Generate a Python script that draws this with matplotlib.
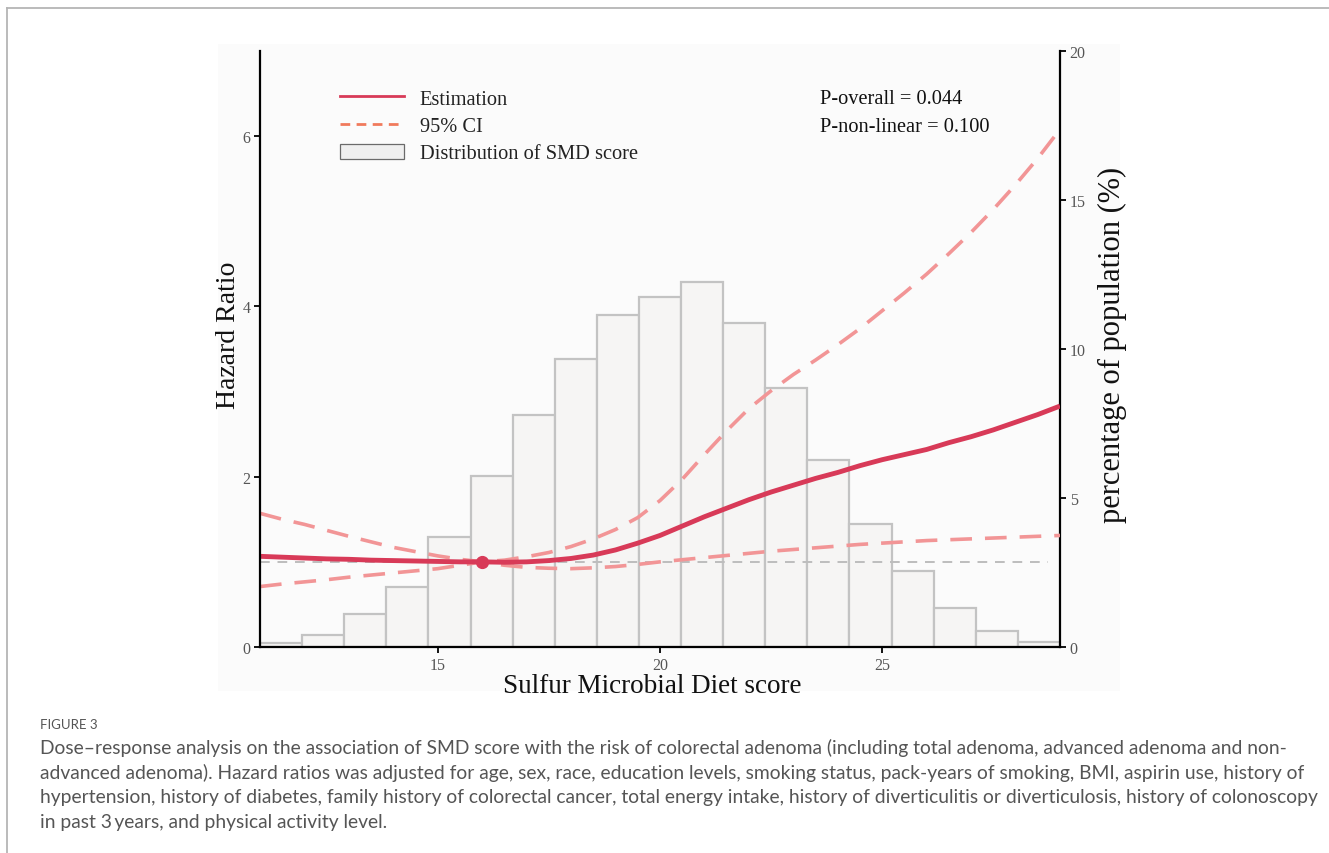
import numpy as np
import matplotlib
matplotlib.use("Agg")
import matplotlib.pyplot as plt
from matplotlib.lines import Line2D
from matplotlib.patches import Patch, Rectangle

# ---------------- data ----------------
score = [11, 11.5, 12, 12.5, 13, 13.5, 14, 14.5, 15, 15.5, 16, 16.5, 17, 17.5, 18, 18.5,
         19, 19.5, 20, 20.5, 21, 21.5, 22, 22.5, 23, 23.5, 24, 24.5, 25, 25.5, 26, 26.5,
         27, 27.5, 28, 28.5, 29]
hr_est = [1.065, 1.055, 1.045, 1.035, 1.03, 1.02, 1.015, 1.01, 1.005, 1.0, 1.0, 0.995,
          1.0, 1.015, 1.04, 1.08, 1.14, 1.22, 1.31, 1.42, 1.53, 1.63, 1.73, 1.82, 1.90,
          1.98, 2.05, 2.13, 2.20, 2.26, 2.32, 2.40, 2.47, 2.55, 2.64, 2.73, 2.83]
hr_upper = [1.57, 1.50, 1.44, 1.37, 1.30, 1.235, 1.17, 1.12, 1.07, 1.03, 1.0, 1.02,
            1.06, 1.11, 1.18, 1.27, 1.38, 1.52, 1.72, 1.97, 2.26, 2.54, 2.80, 3.01, 3.20,
            3.37, 3.55, 3.74, 3.95, 4.16, 4.38, 4.62, 4.87, 5.14, 5.43, 5.74, 6.08]
hr_lower = [0.71, 0.74, 0.765, 0.79, 0.82, 0.845, 0.87, 0.895, 0.92, 0.96, 1.0, 0.96,
            0.935, 0.925, 0.92, 0.93, 0.945, 0.97, 1.0, 1.025, 1.05, 1.075, 1.10, 1.125,
            1.145, 1.165, 1.185, 1.205, 1.22, 1.235, 1.25, 1.26, 1.27, 1.28, 1.29, 1.30, 1.31]
ref_score = 16
ref_hr = 1.0

bin_edges = np.linspace(11, 29, 20)
pct_population = [0.12, 0.40, 1.10, 2.00, 3.70, 5.74, 7.80, 9.66, 11.15, 11.74, 12.25,
                  10.87, 8.69, 6.27, 4.13, 2.56, 1.32, 0.53, 0.16]

x_ticks = [15, 20, 25]
hr_ticks = [0, 2, 4, 6]
pct_ticks = [0, 5, 10, 15, 20]

caption_title = "FIGURE 3"
caption_lines = [
    "Dose\u2013response analysis on the association of SMD score with the risk of colorectal adenoma (including total adenoma, advanced adenoma and non-",
    "advanced adenoma). Hazard ratios was adjusted for age, sex, race, education levels, smoking status, pack-years of smoking, BMI, aspirin use, history of",
    "hypertension, history of diabetes, family history of colorectal cancer, total energy intake, history of diverticulitis or diverticulosis, history of colonoscopy",
    "in past 3\u2009years, and physical activity level.",
]

# ---------------- figure ----------------
W, H = 1329, 854
fig = plt.figure(figsize=(W / 100, H / 100), dpi=100)
fig.patch.set_facecolor("white")

serif = "Liberation Serif"

# outer frame lines
fig.add_artist(Line2D([7 / W, 1.0], [1 - 9 / H, 1 - 9 / H], color="#b5b5b5", lw=1.3))
fig.add_artist(Line2D([7 / W, 7 / W], [0, 1 - 9 / H], color="#b5b5b5", lw=1.3))
# chart panel background
fig.add_artist(Rectangle((218 / W, 1 - 692 / H), (1120 - 218) / W, (692 - 45) / H,
                         transform=fig.transFigure, facecolor="#fbfbfb", edgecolor="none", zorder=0))

left, right, bottom, top = 260 / W, 1060 / W, 1 - 648 / H, 1 - 52 / H
ax = fig.add_axes([left, bottom, right - left, top - bottom])
ax2 = ax.twinx()
ax.set_zorder(ax2.get_zorder() + 1)
ax.patch.set_visible(False)
ax2.patch.set_visible(False)

# histogram on right axis
centers = (bin_edges[:-1] + bin_edges[1:]) / 2
ax2.hist(centers, bins=bin_edges, weights=pct_population, facecolor="#f6f5f4",
         edgecolor="#c3c3c3", linewidth=1.6)
ax2.set_ylim(0, 20)
ax2.set_yticks(pct_ticks)

# curves
ax.axhline(1.0, color="#bdbdbd", lw=1.4, ls=(0, (5, 4)), xmin=0, xmax=0.985)
ci_col = "#f29596"
ax.plot(score, hr_upper, color=ci_col, lw=2.6, ls=(0, (6, 3.6)))
ax.plot(score, hr_lower, color=ci_col, lw=2.6, ls=(0, (6, 3.6)))
est_col = "#d83a58"
ax.plot(score, hr_est, color=est_col, lw=3.5, solid_capstyle="butt")
ax.plot([ref_score], [ref_hr], "o", color=est_col, ms=8.5)

ax.set_xlim(11, 29)
ax.set_ylim(0, 7)
ax.set_xticks(x_ticks)
ax.set_yticks(hr_ticks)

for a in (ax, ax2):
    for s in a.spines.values():
        s.set_visible(False)
ax.spines["left"].set_visible(True)
ax.spines["bottom"].set_visible(True)
ax2.spines["right"].set_visible(True)
for s in (ax.spines["left"], ax.spines["bottom"], ax2.spines["right"]):
    s.set_linewidth(1.6)
    s.set_color("black")

ax.tick_params(axis="both", direction="out", length=4, width=1.3, color="black",
               labelsize=11.5, labelcolor="#555555", pad=3)
ax2.tick_params(axis="y", direction="out", length=4, width=1.3, color="black",
                labelsize=11.5, labelcolor="#555555", pad=3)
for lab in ax.get_xticklabels() + ax.get_yticklabels() + ax2.get_yticklabels():
    lab.set_fontfamily(serif)

ax.set_xlabel("Sulfur Microbial Diet score", fontsize=19.5, fontfamily=serif, color="#111111")
ax.xaxis.set_label_coords(0.49, -0.043)
ax.set_ylabel("Hazard Ratio", fontsize=20, fontfamily=serif, color="#111111")
ax.yaxis.set_label_coords(-0.024, 0.525)
ax2.set_ylabel("percentage of population (%)", fontsize=22, fontfamily=serif,
               color="#111111", rotation=90)
ax2.yaxis.set_label_coords(1.047, 0.508)

# legend
handles = [
    Line2D([], [], color=est_col, lw=2.0),
    Line2D([], [], color="#f07a5c", lw=2.0, ls=(0, (3.5, 2.3))),
    Patch(facecolor="#efefef", edgecolor="#6a6a6a", linewidth=0.9),
]
labels = ["Estimation", "95% CI", "Distribution of SMD score"]
leg = ax.legend(handles, labels, loc="upper left", bbox_to_anchor=(0.09, 0.95),
                frameon=False, prop={"family": serif, "size": 14.7}, handlelength=3.15,
                handleheight=0.75, handletextpad=0.75, labelspacing=0.38, borderaxespad=0)
for t in leg.get_texts():
    t.set_color("#222222")

ax.text(0.7, 0.921, "P-overall = 0.044", transform=ax.transAxes, fontsize=14.7,
        fontfamily=serif, color="#111111", va="center", ha="left")
ax.text(0.7, 0.874, "P-non-linear = 0.100", transform=ax.transAxes, fontsize=14.7,
        fontfamily=serif, color="#111111", va="center", ha="left")

# caption
fig.text(40 / W, 1 - 725 / H, caption_title, fontsize=9.5, fontfamily="Lato",
         color="#555555", va="center", ha="left")
for i, line in enumerate(caption_lines):
    fig.text(40 / W, 1 - (748 + 24.7 * i) / H, line, fontsize=13.9,
             fontfamily=["Lato", "DejaVu Sans"], color="#555555", va="center", ha="left")

fig.savefig("out.png", dpi=100, facecolor=fig.get_facecolor())
